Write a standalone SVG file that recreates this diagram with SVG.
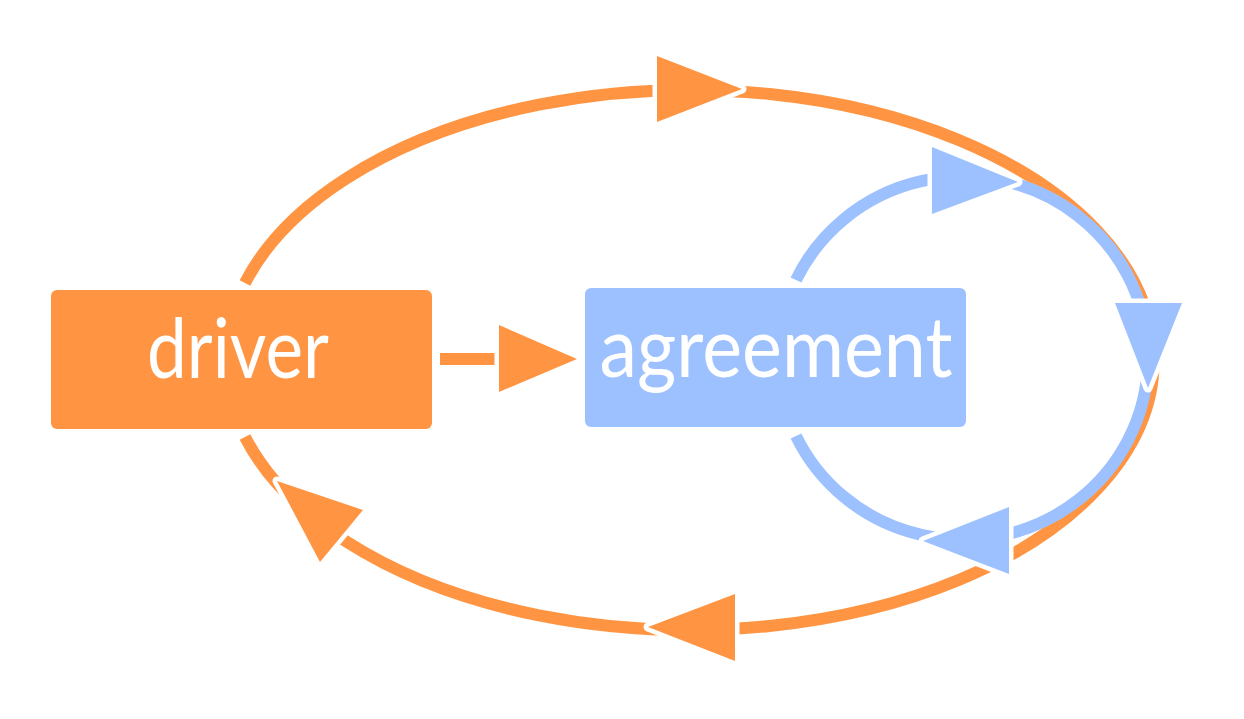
<svg xmlns="http://www.w3.org/2000/svg" width="1244" height="719" viewBox="0 0 1244 719">
<style>
.bg{fill:#ffffff}
.o-line{fill:none;stroke:#FF9542;stroke-width:12}
.b-line{fill:none;stroke:#9DC1FF;stroke-width:12}
.o-head{fill:#FF9542;stroke:#ffffff;stroke-width:9;stroke-linejoin:round;paint-order:stroke}
.b-head{fill:#9DC1FF;stroke:#ffffff;stroke-width:9;stroke-linejoin:round;paint-order:stroke}
.box-o{fill:#FF9542}
.box-b{fill:#9DC1FF}
.label{fill:#ffffff;font-family:Lato,"Liberation Sans",sans-serif;font-size:84px;text-anchor:middle}
</style>
<rect class="bg" x="0" y="0" width="1244" height="719"/>
<g id="connectors">
  <g id="edge-driver-loop">
    <path class="o-line" d="M 245 283 A 464 270 0 1 1 245 437"/>
    <polygon class="o-head" points="657,56 657,122 742,89"/>
    <polygon class="o-head" points="735,594 735,661 648,627"/>
    <polygon class="o-head" points="363,510 320,562 277,481"/>
  </g>
  <g id="edge-driver-agreement">
    <path class="o-line" d="M 440 359 L 500 359"/>
    <polygon class="o-head" points="499,325 499,392 577,359"/>
  </g>
  <g id="edge-agreement-loop">
    <path class="b-line" d="M 796 280 A 185 181.5 0 1 1 796 436"/>
    <polygon class="b-head" points="932,147 932,214 1018,182"/>
    <polygon class="b-head" points="1115,303 1182,303 1148,388"/>
    <polygon class="b-head" points="1009,507 1009,574 923,541"/>
  </g>
</g>
<g id="node-driver">
  <rect class="box-o" x="51" y="290" width="381" height="139" rx="6"/>
  <text class="label" x="238" y="378" textLength="182" lengthAdjust="spacingAndGlyphs">driver</text>
</g>
<g id="node-agreement">
  <rect class="box-b" x="585" y="288" width="381" height="139" rx="6"/>
  <text class="label" x="776" y="377" textLength="353" lengthAdjust="spacingAndGlyphs">agreement</text>
</g>
</svg>
